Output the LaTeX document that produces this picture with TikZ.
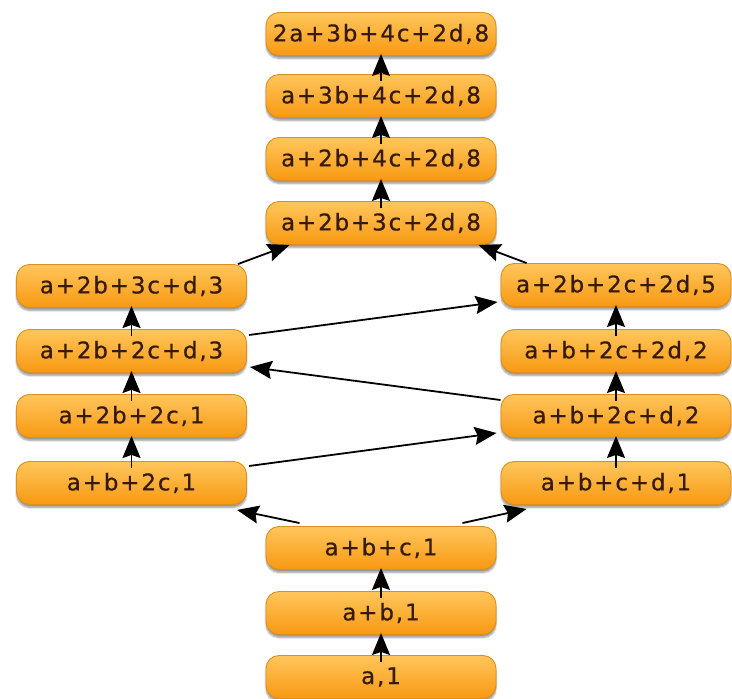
\documentclass[tikz,border=0pt]{standalone}
\usepackage{fontspec}
\newfontfamily\termfont[LetterSpace=8,FakeBold=0.6]{DejaVu Sans}
\usetikzlibrary{arrows.meta,shadows.blur}
\definecolor{boxtop}{HTML}{FFC65C}
\definecolor{boxmid}{HTML}{F9A01E}
\definecolor{boxbot}{HTML}{F89912}
\definecolor{boxline}{HTML}{DE8E1A}
\definecolor{ink}{HTML}{361A0C}
\begin{document}
\begin{tikzpicture}[x=1pt,y=1pt,
  term/.style={rectangle, rounded corners=13pt, draw=boxline, line width=0.9pt,
    top color=boxtop, middle color=boxmid, bottom color=boxbot,
    minimum width=230pt, minimum height=43pt, inner sep=0pt, text=ink,
    font=\termfont\fontsize{23}{26}\selectfont,
    blur shadow={shadow xshift=0pt, shadow yshift=-3pt, shadow blur steps=6, shadow opacity=40}},
  link/.style={line width=1.8pt, draw=black, -{Stealth[length=22pt,width=18pt,inset=3pt]}},
  rise/.style={link, shorten <=-7pt, shorten >=-2pt}]
\useasboundingbox (0,0) rectangle (732,-699);

% centre column
\node[term] (t4) at (381,-34)  {2a+3b+4c+2d,8};
\node[term] (t3) at (381,-96)  {a+3b+4c+2d,8};
\node[term] (t2) at (381,-159) {a+2b+4c+2d,8};
\node[term] (t1) at (381,-223) {a+2b+3c+2d,8};
\node[term] (b3) at (381,-548) {a+b+c,1};
\node[term] (b2) at (381,-613) {a+b,1};
\node[term] (b1) at (381,-677) {a,1};

% left column
\node[term] (l4) at (131.5,-286) {a+2b+3c+d,3};
\node[term] (l3) at (131.5,-351) {a+2b+2c+d,3};
\node[term] (l2) at (131.5,-416) {a+2b+2c,1};
\node[term] (l1) at (131.5,-483) {a+b+2c,1};

% right column
\node[term] (r4) at (616,-285) {a+2b+2c+2d,5};
\node[term] (r3) at (616,-351) {a+b+2c+2d,2};
\node[term] (r2) at (616,-416) {a+b+2c+d,2};
\node[term] (r1) at (616,-483) {a+b+c+d,1};

% vertical steps
\draw[rise] (b1.north) -- (b2.south);
\draw[rise] (b2.north) -- (b3.south);
\draw[rise] (l1.north) -- (l2.south);
\draw[rise] (l2.north) -- (l3.south);
\draw[rise] (l3.north) -- (l4.south);
\draw[rise] (r1.north) -- (r2.south);
\draw[rise] (r2.north) -- (r3.south);
\draw[rise] (r3.north) -- (r4.south);
\draw[rise] (t1.north) -- (t2.south);
\draw[rise] (t2.north) -- (t3.south);
\draw[rise] (t3.north) -- (t4.south);

% cross steps
\draw[link] ([xshift=34pt,yshift=3pt]b3.north west) -- ([xshift=-10pt,yshift=-5pt]l1.south east);
\draw[link] ([xshift=-34pt,yshift=3pt]b3.north east) -- ([xshift=26pt,yshift=-4pt]r1.south west);
\draw[link] ([xshift=2pt,yshift=17pt]l1.east) -- ([xshift=-4pt,yshift=-17pt]r2.west);
\draw[link] ([yshift=16pt]r2.west) -- ([xshift=3pt,yshift=-16pt]l3.east);
\draw[link] ([xshift=2pt,yshift=16pt]l3.east) -- ([xshift=-3pt,yshift=-17pt]r4.west);
\draw[link] ([xshift=-9pt]l4.north east) -- ([xshift=24pt]t1.south west);
\draw[link] ([xshift=26pt]r4.north west) -- ([xshift=-18pt]t1.south east);
\end{tikzpicture}
\end{document}
